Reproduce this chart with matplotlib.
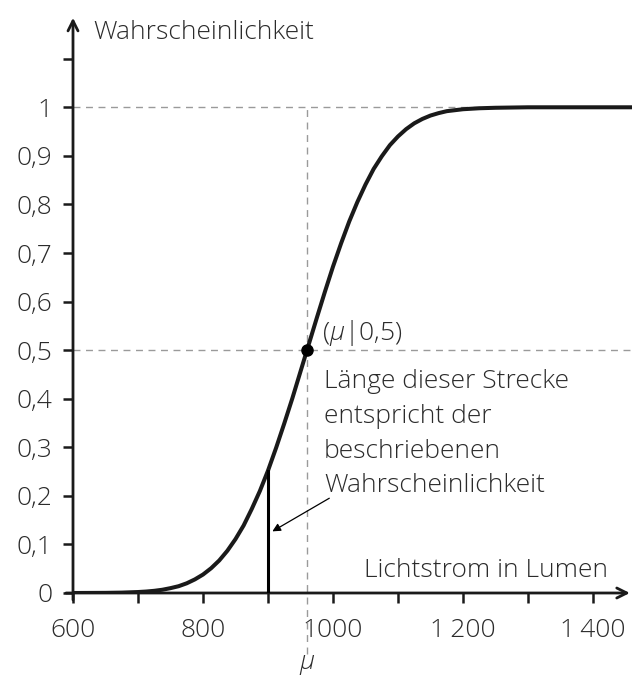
import matplotlib.pyplot as plt

plt.rcParams['font.family'] = ['Open Sans', 'DejaVu Sans']
plt.rcParams['font.weight'] = 'light'
plt.rcParams['mathtext.fontset'] = 'custom'
plt.rcParams['mathtext.it'] = 'Open Sans:italic:light'
plt.rcParams['mathtext.rm'] = 'Open Sans:light'

# values
lumen = [600, 650, 675, 700, 712.5, 725, 737.5, 750, 762.5, 775, 787.5, 800, 812.5,
         825, 837.5, 850, 862.5, 875, 887.5, 900, 912.5, 925, 937.5, 950, 960, 975,
         987.5, 1000, 1012.5, 1025, 1037.5, 1050, 1062.5, 1075, 1087.5, 1100, 1112.5,
         1125, 1137.5, 1150, 1162.5, 1175, 1187.5, 1200, 1225, 1250, 1300, 1460]
prob = [0.000, 0.0003, 0.0008, 0.002, 0.003, 0.0045, 0.0067, 0.010, 0.014, 0.020,
        0.028, 0.038, 0.051, 0.067, 0.087, 0.111, 0.139, 0.173, 0.210, 0.252, 0.299,
        0.349, 0.401, 0.456, 0.500, 0.566, 0.620, 0.672, 0.720, 0.765, 0.805, 0.841,
        0.873, 0.899, 0.922, 0.940, 0.955, 0.967, 0.976, 0.983, 0.988, 0.992, 0.994,
        0.996, 0.998, 0.999, 1.000, 1.000]
mu = 960
seg_x = 900
seg_y = 0.252

x_ticks = [600, 700, 800, 900, 1000, 1100, 1200, 1300, 1400]
x_labels = ['600', '', '800', '', '1000', '', '1\u2009200', '', '1\u2009400']
y_ticks = [0, 0.1, 0.2, 0.3, 0.4, 0.5, 0.6, 0.7, 0.8, 0.9, 1.0, 1.1]
y_labels = ['0', '0,1', '0,2', '0,3', '0,4', '0,5', '0,6', '0,7', '0,8', '0,9', '1', '']
note_lines = ['Länge dieser Strecke', 'entspricht der', 'beschriebenen', 'Wahrscheinlichkeit']

txt = '#2b2b2b'
fs = 19
fig = plt.figure(figsize=(6.32, 6.80), dpi=100)
ax = fig.add_axes([73 / 632, 87 / 680, 559 / 632, 578 / 680])
ax.set_xlim(600, 1460)
ax.set_ylim(0, 1.19)
for s in ax.spines.values():
    s.set_visible(False)

# dashed helper lines
dash = dict(ls=(0, (5, 4)), color='#9a9a9a', lw=1, clip_on=False)
ax.plot([600, 1460], [1, 1], **dash)
ax.plot([600, 1460], [0.5, 0.5], **dash)
ax.plot([mu, mu], [-0.125, 1], **dash)

# axes with arrows
ax.annotate('', xy=(600, 1.19), xytext=(600, -0.02),
            arrowprops=dict(arrowstyle='->', lw=2, color='#1a1a1a', mutation_scale=18),
            annotation_clip=False)
ax.annotate('', xy=(1461, 0), xytext=(585, 0),
            arrowprops=dict(arrowstyle='->', lw=2, color='#1a1a1a', mutation_scale=18),
            annotation_clip=False)

ax.plot(lumen, prob, color='#1a1a1a', lw=2.9, solid_capstyle='round',
        solid_joinstyle='round', zorder=3)
ax.plot([seg_x, seg_x], [0, seg_y], color='black', lw=2.2, zorder=3)
ax.plot([mu], [0.5], 'o', color='black', ms=8, zorder=4)

ax.set_xticks(x_ticks)
ax.set_xticklabels(x_labels)
ax.set_yticks(y_ticks)
ax.set_yticklabels(y_labels)
ax.tick_params(direction='out', length=7, width=1.8, color='#1a1a1a',
               labelsize=fs, labelcolor=txt, pad=8)
ax.tick_params(axis='x', pad=11)

ax.text(631, 1.153, 'Wahrscheinlichkeit', fontsize=fs, color=txt, va='center', ha='left')
ax.text(1423, 0.047, 'Lichtstrom in Lumen', fontsize=fs, color=txt, ha='right', va='center')
ax.text(983, 0.536, r'($\mu$|0,5)', fontsize=fs, color=txt, va='center')
for i, line in enumerate(note_lines):
    ax.text(986, 0.435 - i * 0.0715, line, fontsize=fs, color=txt, va='center')
ax.text(mu, -0.148, r'$\mu$', fontsize=fs, color=txt, ha='center', va='center')

ax.annotate('', xy=(seg_x + 3, 0.124), xytext=(998, 0.198),
            arrowprops=dict(arrowstyle='-|>', lw=0.9, color='black', mutation_scale=12))

fig.savefig('out.png', dpi=100)
